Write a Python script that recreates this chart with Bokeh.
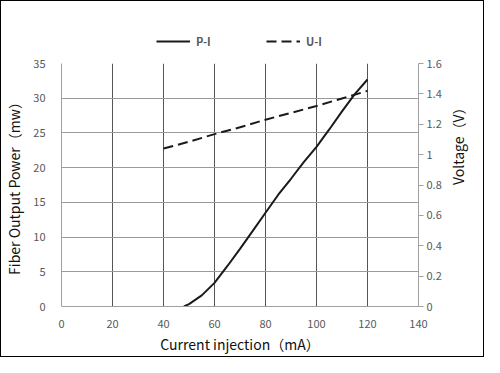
import math
from bokeh.plotting import figure
from bokeh.layouts import column
from bokeh.models import (Range1d, LinearAxis, FixedTicker, Legend, LegendItem)
from bokeh.embed import file_html
from bokeh.resources import INLINE

# ---- data ----
pi_current = [48, 50, 55, 60, 65, 70, 75, 80, 85, 90, 95, 100, 105, 110, 115, 120]
pi_power = [0, 0.35, 1.6, 3.4, 5.8, 8.3, 10.9, 13.5, 16.1, 18.4, 20.8, 23.0, 25.5, 28.1, 30.6, 32.7]

ui_current = [40, 50, 60, 70, 80, 90, 100, 110, 120]
ui_voltage = [1.04, 1.085, 1.135, 1.18, 1.23, 1.275, 1.32, 1.37, 1.42]

series_names = ["P-I", "U-I"]

x_ticks = [0, 20, 40, 60, 80, 100, 120, 140]
y_ticks = [0, 5, 10, 15, 20, 25, 30, 35]
v_ticks = [0, 0.2, 0.4, 0.6, 0.8, 1.0, 1.2, 1.4, 1.6]
v_labels = ["0", "0.2", "0.4", "0.6", "0.8", "1", "1.2", "1.4", "1.6"]

FONT = "Noto Sans CJK SC"
TICK_COLOR = "#595959"
LINE_COLOR = "#1a1a1a"
UI_DASH = "10 5"
NAN = float("nan")

# ---- legend strip (top) ----
leg = figure(width=482, height=54, output_backend="svg", toolbar_location=None,
             x_range=Range1d(0, 482), y_range=Range1d(0, 54),
             x_axis_location=None, y_axis_location=None,
             min_border=0, min_border_left=0, min_border_right=0,
             min_border_top=0, min_border_bottom=0)
leg.grid.visible = False
leg.outline_line_color = None
l_pi = leg.line(x=[NAN], y=[NAN], line_color=LINE_COLOR, line_width=2)
l_ui = leg.line(x=[NAN], y=[NAN], line_color=LINE_COLOR, line_width=2, line_dash=UI_DASH)
legend = Legend(items=[LegendItem(label=series_names[0], renderers=[l_pi]),
                       LegendItem(label=series_names[1], renderers=[l_ui])],
                orientation="horizontal", location=(95, 6),
                glyph_width=34, glyph_height=16, label_standoff=6, spacing=50,
                padding=0, margin=0, border_line_color=None, background_fill_alpha=0,
                label_text_font=FONT, label_text_font_size="11px", label_height=16,
                label_text_color=TICK_COLOR, label_text_font_style="bold")
leg.add_layout(legend, "center")

# ---- main chart ----
p = figure(width=482, height=301, output_backend="svg", toolbar_location=None,
           x_range=Range1d(0, 140), y_range=Range1d(0, 35),
           min_border_left=54, min_border_right=65, min_border_top=8, min_border_bottom=49)
p.outline_line_color = None
p.background_fill_color = "white"

p.extra_y_ranges = {"v": Range1d(0, 1.6)}

p.xaxis.ticker = FixedTicker(ticks=x_ticks)
p.yaxis.ticker = FixedTicker(ticks=y_ticks)
for ax in (p.xaxis[0], p.yaxis[0]):
    ax.axis_line_color = "#a0a0a0"
    ax.major_tick_line_color = None
    ax.minor_tick_line_color = None
    ax.major_label_text_font = FONT
    ax.major_label_text_font_size = "11px"
    ax.major_label_text_color = TICK_COLOR
    ax.axis_label_text_font = FONT
    ax.axis_label_text_font_size = "14px"
    ax.axis_label_text_font_style = "normal"
    ax.axis_label_text_color = "#111111"
p.xaxis.major_label_standoff = 7
p.yaxis.major_label_standoff = 10
p.xaxis.axis_label = "Current injection（mA）"
p.xaxis.axis_label_standoff = 3
p.yaxis.axis_label = "Fiber Output Power（mw）"
p.yaxis.axis_label_standoff = 6

vaxis = LinearAxis(y_range_name="v", ticker=FixedTicker(ticks=v_ticks),
                   major_label_overrides={t: l for t, l in zip(v_ticks, v_labels)})
vaxis.axis_line_color = "#a0a0a0"
vaxis.major_tick_line_color = "#a0a0a0"
vaxis.major_tick_out = 5
vaxis.major_tick_in = 0
vaxis.minor_tick_line_color = None
vaxis.major_label_standoff = 3
vaxis.major_label_text_font = FONT
vaxis.major_label_text_font_size = "11px"
vaxis.major_label_text_color = TICK_COLOR
vaxis.axis_label = "Voltage（V）"
vaxis.axis_label_orientation = math.pi / 2
vaxis.axis_label_standoff = 13
vaxis.axis_label_text_font = FONT
vaxis.axis_label_text_font_size = "14px"
vaxis.axis_label_text_font_style = "normal"
vaxis.axis_label_text_color = "#111111"
p.add_layout(vaxis, "right")

p.xgrid.ticker = FixedTicker(ticks=[20, 40, 60, 80, 100, 120])
p.xgrid.grid_line_color = "#555555"
p.xgrid.grid_line_width = 1
p.ygrid.ticker = FixedTicker(ticks=[5, 10, 15, 20, 25, 30, 35])
p.ygrid.grid_line_color = "#9a9a9a"
p.ygrid.grid_line_width = 1

p.line(ui_current, ui_voltage, y_range_name="v", line_color=LINE_COLOR,
       line_width=2, line_dash=UI_DASH)
p.line(pi_current, pi_power, line_color=LINE_COLOR, line_width=2)

layout = column(leg, p, spacing=0)
layout.styles = {"border": "1px solid black"}

open("out.html", "w").write(file_html(layout, INLINE))
